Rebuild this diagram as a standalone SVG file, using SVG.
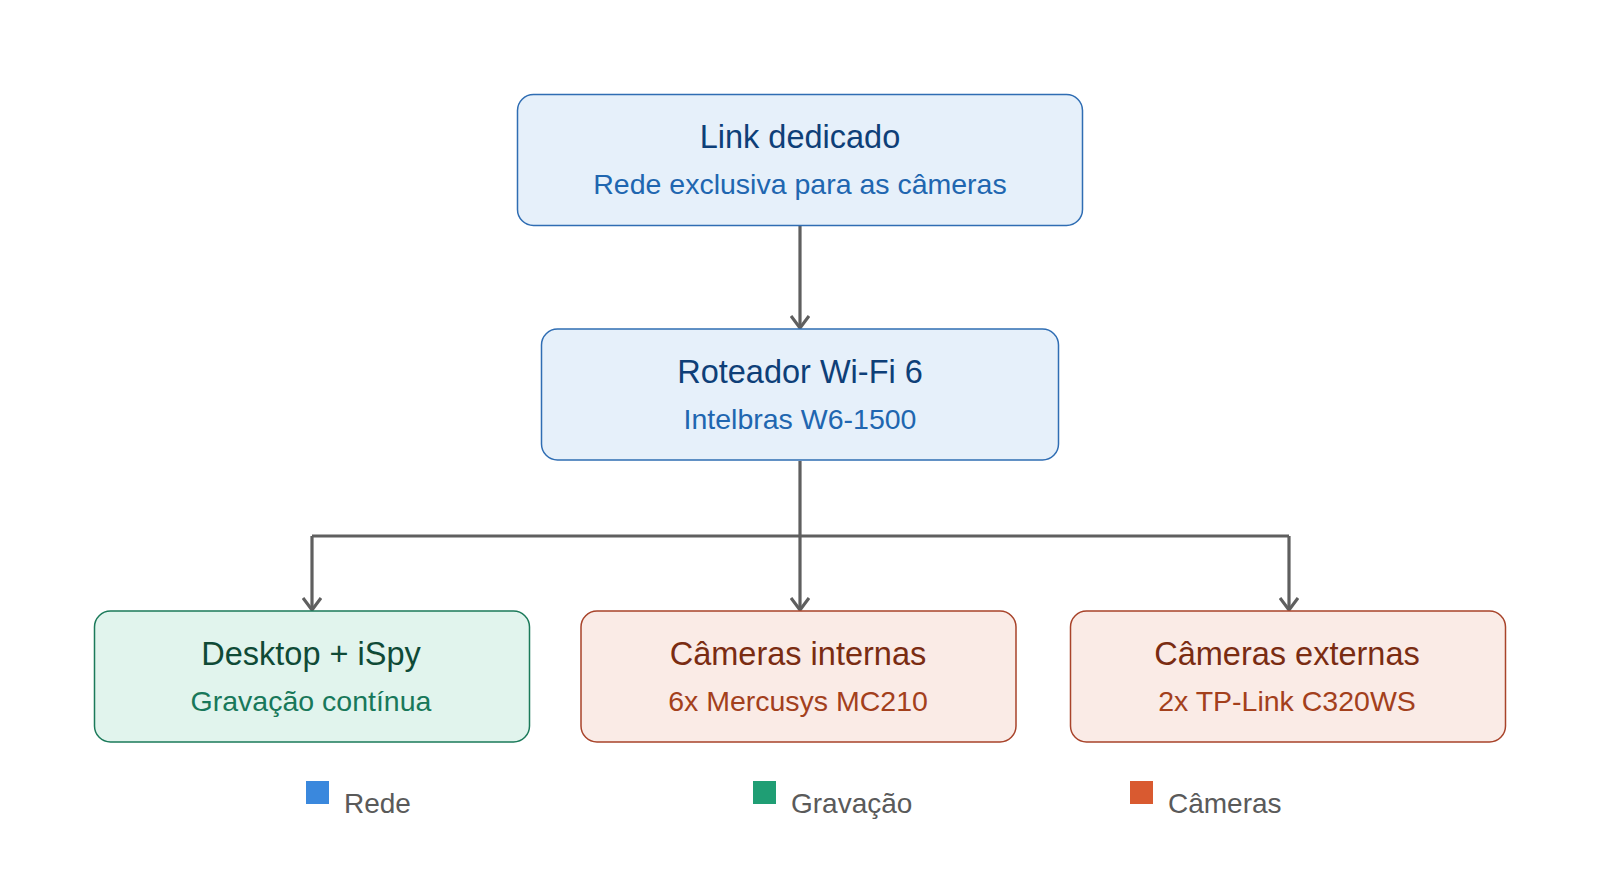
<svg xmlns="http://www.w3.org/2000/svg" width="1600" height="894" viewBox="0 0 1600 894">
<style>
text{font-family:"Liberation Sans",Arial,sans-serif;text-anchor:middle}
.t{font-size:32.5px}
.s{font-size:28.5px}
.lg{font-size:28px;fill:#5a5a5a;text-anchor:start}
.blue rect{fill:#e6f0fa;stroke:#2f6db3;stroke-width:1.5}
.blue .t{fill:#0e3f78}
.blue .s{fill:#2066b0}
.green rect{fill:#e1f4ed;stroke:#1b7a5a;stroke-width:1.5}
.green .t{fill:#0f4a36}
.green .s{fill:#18785a}
.orange rect{fill:#faebe6;stroke:#a8432a;stroke-width:1.5}
.orange .t{fill:#7a2c12}
.orange .s{fill:#a3401c}
.conn{fill:none;stroke:#5f5f5f;stroke-width:3.2}
</style>
<defs>
<marker id="arr" viewBox="0 0 14 20" refX="13" refY="10" markerWidth="14" markerHeight="20" markerUnits="userSpaceOnUse" orient="auto">
<path d="M1,1 L13,10 L1,19" fill="none" stroke="#5f5f5f" stroke-width="3.2"/>
</marker>
</defs>
<rect width="1600" height="894" fill="#ffffff"/>
<g id="connectors" class="conn">
<line x1="800" y1="226" x2="800" y2="328" marker-end="url(#arr)"/>
<polyline points="800,461 800,536"/>
<polyline points="312,536 1289,536"/>
<line x1="312" y1="536" x2="312" y2="610" marker-end="url(#arr)"/>
<line x1="800" y1="536" x2="800" y2="610" marker-end="url(#arr)"/>
<line x1="1289" y1="536" x2="1289" y2="610" marker-end="url(#arr)"/>
</g>
<g id="link" class="blue">
<rect x="517.5" y="94.5" width="565" height="131" rx="16"/>
<text class="t" x="800" y="148">Link dedicado</text>
<text class="s" x="800" y="194">Rede exclusiva para as câmeras</text>
</g>
<g id="roteador" class="blue">
<rect x="541.5" y="329" width="517" height="131" rx="16"/>
<text class="t" x="800" y="383">Roteador Wi-Fi 6</text>
<text class="s" x="800" y="429">Intelbras W6-1500</text>
</g>
<g id="desktop" class="green">
<rect x="94.5" y="611" width="435" height="131" rx="16"/>
<text class="t" x="311" y="665">Desktop + iSpy</text>
<text class="s" x="311" y="711">Gravação contínua</text>
</g>
<g id="internas" class="orange">
<rect x="581" y="611" width="435" height="131" rx="16"/>
<text class="t" x="798" y="665">Câmeras internas</text>
<text class="s" x="798" y="711">6x Mercusys MC210</text>
</g>
<g id="externas" class="orange">
<rect x="1070.5" y="611" width="435" height="131" rx="16"/>
<text class="t" x="1287" y="665">Câmeras externas</text>
<text class="s" x="1287" y="711">2x TP-Link C320WS</text>
</g>
<g id="legend">
<rect x="306" y="781" width="23" height="23" fill="#3a88dd"/>
<text class="lg" x="344" y="813">Rede</text>
<rect x="753" y="781" width="23" height="23" fill="#1f9e74"/>
<text class="lg" x="791" y="813">Gravação</text>
<rect x="1130" y="781" width="23" height="23" fill="#d95a30"/>
<text class="lg" x="1168" y="813">Câmeras</text>
</g>
</svg>
